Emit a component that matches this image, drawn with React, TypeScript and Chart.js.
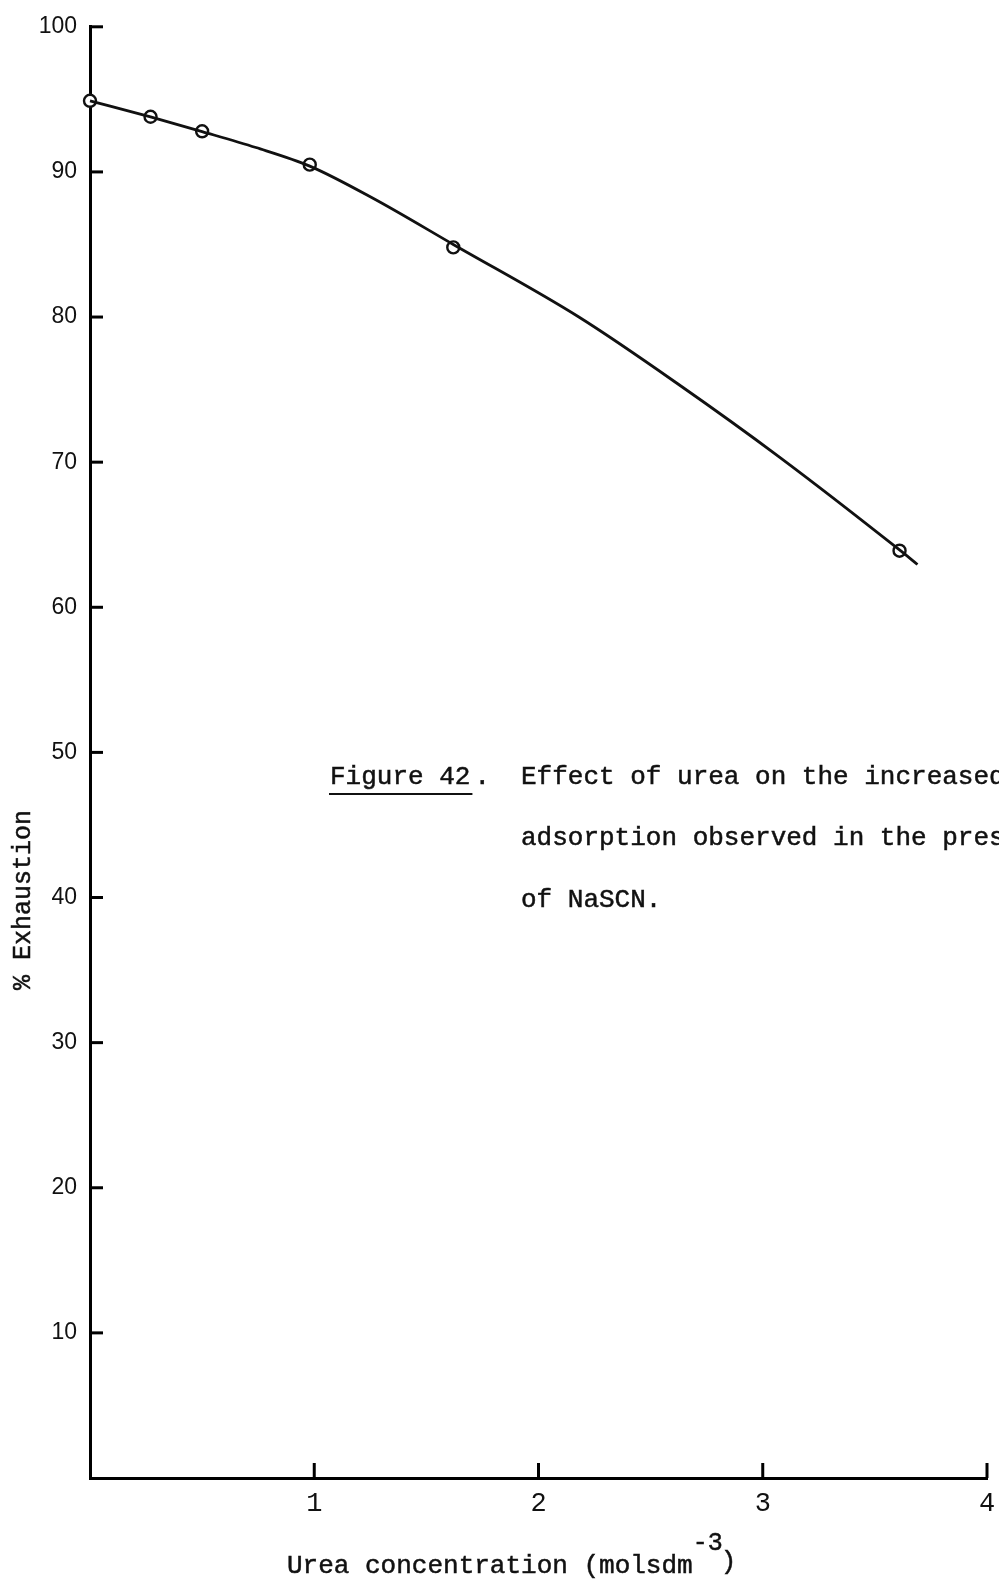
import React, { useEffect, useRef } from "react";
import { Chart, registerables } from "chart.js";

Chart.register(...registerables);

// Measured points (urea concentration, % exhaustion)
const ureaConc = [0, 0.27, 0.5, 0.98, 1.62, 3.61];
const exhaustion = [94.9, 93.8, 92.8, 90.5, 84.8, 63.9];

// Hand-drawn fitted curve
const curveX = [0, 0.27, 0.5, 0.74, 0.98, 1.26, 1.62, 2.18, 2.63, 3.07, 3.61, 3.69];
const curveY = [94.9, 93.79, 92.78, 91.68, 90.4, 88.2, 85.0, 80.0, 75.3, 70.4, 63.95, 62.95];

const yTickValues = [10, 20, 30, 40, 50, 60, 70, 80, 90, 100];
const xTickValues = [1, 2, 3, 4];

const yTitle = "% Exhaustion";
const xTitle = "Urea concentration (molsdm";
const xTitleSup = "-3";
const xTitleEnd = ")";
const captionLabel = "Figure 42";
const captionLines = [
  "Effect of urea on the increased",
  "adsorption observed in the presence",
  "of NaSCN.",
];

const MONO = '"Liberation Mono", "DejaVu Sans Mono", monospace';
const SANS = '"Liberation Sans", Arial, sans-serif';

function typeText(ctx: CanvasRenderingContext2D, text: string, x: number, y: number) {
  ctx.fillText(text, x, y);
  ctx.strokeText(text, x, y);
}

const decorPlugin = {
  id: "decor",
  afterDraw(chart: any) {
    const { ctx, chartArea, scales } = chart;
    const xs = scales.x;
    const ys = scales.y;
    ctx.save();
    ctx.strokeStyle = "#000";
    ctx.lineWidth = 3;
    // inward tick marks
    yTickValues.forEach((v) => {
      const py = ys.getPixelForValue(v);
      ctx.beginPath();
      ctx.moveTo(chartArea.left, py);
      ctx.lineTo(chartArea.left + 13, py);
      ctx.stroke();
    });
    xTickValues.forEach((v) => {
      const px = xs.getPixelForValue(v);
      ctx.beginPath();
      ctx.moveTo(px, chartArea.bottom);
      ctx.lineTo(px, chartArea.bottom - 15);
      ctx.stroke();
    });

    ctx.fillStyle = "#111";
    ctx.strokeStyle = "#111";
    ctx.lineWidth = 0.5;
    // y axis title
    ctx.save();
    ctx.translate(23, 900);
    ctx.rotate(-Math.PI / 2);
    ctx.font = `25px ${MONO}`;
    ctx.textAlign = "center";
    ctx.textBaseline = "middle";
    typeText(ctx, yTitle, 0, 0);
    ctx.restore();

    // x axis title
    ctx.font = `26px ${MONO}`;
    ctx.textAlign = "left";
    ctx.textBaseline = "middle";
    const tx = 287;
    typeText(ctx, xTitle, tx, 1566);
    const w1 = ctx.measureText(xTitle).width;
    ctx.font = `25px ${MONO}`;
    typeText(ctx, xTitleSup, tx + w1, 1543);
    const w2 = ctx.measureText(xTitleSup).width;
    ctx.font = `26px ${MONO}`;
    typeText(ctx, xTitleEnd, tx + w1 + w2 - 2, 1562);

    // caption
    ctx.font = `26px ${MONO}`;
    typeText(ctx, captionLabel, 330, 777);
    const lw = ctx.measureText(captionLabel).width;
    typeText(ctx, ".", 330 + lw + 4, 777);
    ctx.lineWidth = 2.2;
    ctx.beginPath();
    ctx.moveTo(329, 794);
    ctx.lineTo(330 + lw + 2, 794);
    ctx.stroke();
    ctx.lineWidth = 0.5;
    captionLines.forEach((line, i) => {
      typeText(ctx, line, 521, 777 + i * 61.5);
    });
    ctx.restore();
  },
};

export default function App() {
  const canvasRef = useRef<HTMLCanvasElement | null>(null);

  useEffect(() => {
    document.body.style.margin = "0";
    const canvas = canvasRef.current;
    if (!canvas) return;
    const chart = new Chart(canvas, {
      type: "scatter",
      data: {
        datasets: [
          {
            label: "curve",
            data: curveX.map((x, i) => ({ x, y: curveY[i] })),
            showLine: true,
            borderColor: "#111",
            borderWidth: 2.8,
            pointRadius: 0,
            cubicInterpolationMode: "monotone",
            clip: false,
          } as any,
          {
            label: "measured",
            data: ureaConc.map((x, i) => ({ x, y: exhaustion[i] })),
            showLine: false,
            pointRadius: 6,
            pointBorderWidth: 2.4,
            pointBackgroundColor: "#fff",
            pointBorderColor: "#111",
            clip: false,
          } as any,
        ],
      },
      options: {
        animation: false,
        responsive: false,
        maintainAspectRatio: false,
        layout: { padding: { left: 0, top: 24, right: 12, bottom: 0 } },
        plugins: {
          legend: { display: false },
          tooltip: { enabled: false },
          title: { display: false },
        },
        scales: {
          x: {
            type: "linear",
            min: 0,
            max: 4,
            grid: { display: false, drawTicks: false },
            border: { display: true, color: "#000", width: 3 },
            ticks: {
              stepSize: 1,
              padding: 10,
              color: "#111",
              font: { family: MONO, size: 27 },
              maxRotation: 0,
              autoSkip: false,
              callback: (v: any) => (v === 0 ? "" : String(v)),
            },
            afterFit: (scale: any) => {
              scale.height = 104;
              scale.paddingRight = 0;
              scale.paddingLeft = 0;
            },
          },
          y: {
            type: "linear",
            min: 0,
            max: 100,
            grid: { display: false, drawTicks: false },
            border: { display: true, color: "#000", width: 3 },
            ticks: {
              stepSize: 10,
              padding: 13,
              color: "#111",
              font: { family: SANS, size: 23 },
              autoSkip: false,
              callback: (v: any) => (v === 0 ? "" : String(v)),
            },
            afterFit: (scale: any) => {
              scale.width = 90;
            },
          },
        },
      },
      plugins: [decorPlugin],
    });
    return () => chart.destroy();
  }, []);

  return (
    <div style={{ width: 999, height: 1582, background: "#fff" }}>
      <canvas ref={canvasRef} width={999} height={1582} style={{ display: "block" }} />
    </div>
  );
}
